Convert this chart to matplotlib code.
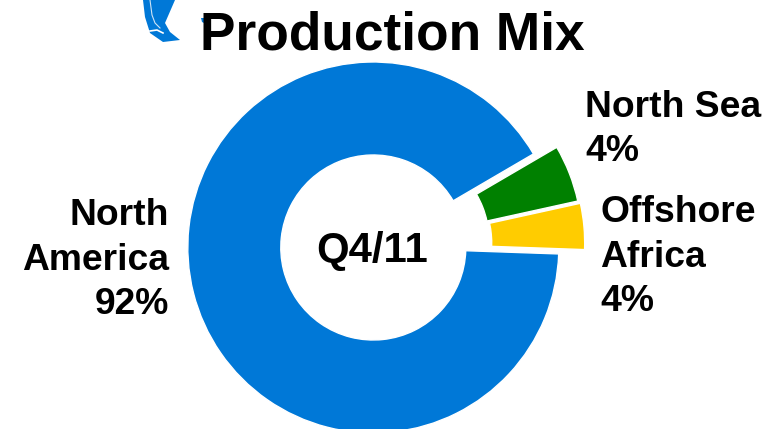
import matplotlib
matplotlib.use("Agg")
import matplotlib.pyplot as plt
from matplotlib.patches import Polygon

# shares as drawn, the slices are a bit off the printed percentages
regions = ["North America", "Offshore Africa", "North Sea"]
shares = [91.03, 4.0, 4.97]
colors = ["#0078D7", "#FFCC00", "#008000"]
offsets = [0, 26, 25]
nudge_y = [0, 2, -2.5]  # the pulled out slices sit closer together than a plain explode
title = "Production Mix"
period = "Q4/11"

W, H = 775, 429
BLUE = "#0078D7"
plt.rcParams["font.family"] = ["Liberation Sans", "DejaVu Sans"]
plt.rcParams["font.weight"] = "bold"

fig = plt.figure(figsize=(W / 100, H / 100), dpi=100)
ax = fig.add_axes([0, 0, 1, 1])

wedges, _ = ax.pie(shares, colors=colors, explode=offsets, startangle=30.3, radius=185.5,
                   center=(373.3, H - 247.5),
                   wedgeprops=dict(width=93, edgecolor="white", linewidth=1))
for w, dy in zip(wedges, nudge_y):
    w.set_center((w.center[0], w.center[1] + dy))
ax.set_xlim(0, W)
ax.set_ylim(0, H)
ax.set_aspect("equal")
ax.axis("off")

# bit of the map logo cut off at the top
logo = [(143, H), (175, H), (165, H - 23), (170, H - 32), (180, H - 40), (163, H - 42),
        (150, H - 33), (145, H - 17)]
ax.add_patch(Polygon(logo, closed=True, facecolor=BLUE, edgecolor="none"))
ax.plot([150, 152, 155, 160], [H, H - 15, H - 23, H - 28], color="#cfe3f5", lw=0.8)
ax.plot([150, 157, 163], [H - 31, H - 30, H - 33], color="white", lw=1.2)
ax.add_patch(Polygon([(201, H - 18), (204, H - 18), (204, H - 23), (202, H - 22)],
                     closed=True, facecolor=BLUE, edgecolor="none"))

ax.text(392.5, H - 50, title, fontsize=38.3, ha="center", va="baseline")
ax.text(372, H - 262, period, fontsize=30.2, ha="center", va="baseline")
ax.text(169, H - 314, "North\nAmerica\n92%", fontsize=26.8, ha="right", va="baseline",
        ma="right", linespacing=1.345)
ax.text(585, H - 161, "North Sea\n4%", fontsize=26.8, ha="left", va="baseline",
        linespacing=1.345)
ax.text(600, H - 311, "Offshore\nAfrica\n4%", fontsize=26.8, ha="left", va="baseline",
        linespacing=1.345)

fig.savefig("out.png", dpi=100)
